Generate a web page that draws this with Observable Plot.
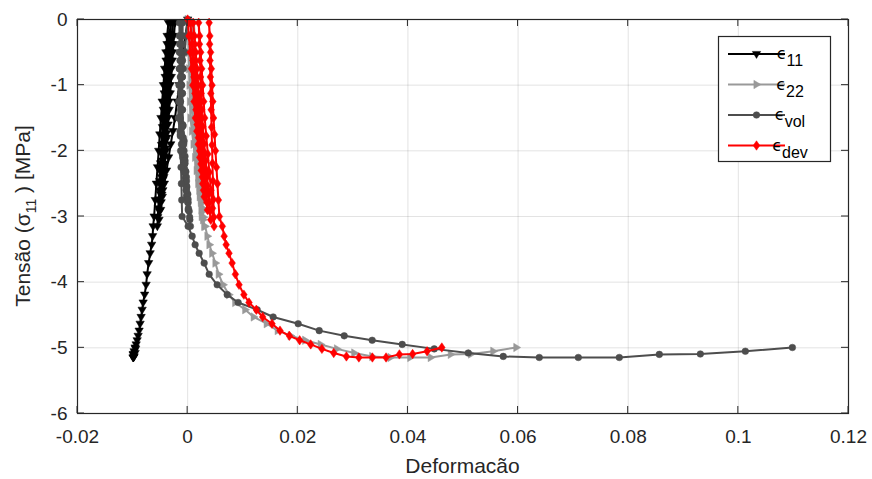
<!DOCTYPE html>
<html><head><meta charset="utf-8">
<script src="https://cdn.jsdelivr.net/npm/d3@7"></script>
<script src="https://cdn.jsdelivr.net/npm/@observablehq/plot@0.6"></script>
<style>body{margin:0;background:#fff} #chart svg{font-family:"Liberation Sans",Arial,sans-serif;overflow:visible}</style>
</head><body><div id="chart"></div>
<script>
// Stress (MPa), shared time steps for all four strain series
const stress = [0,
-0.25,-0.5,-0.75,-1,-1.25,-1.5,-1.7,-1.9,-2.1,-2.3,-2.5,-2.7,
-2.6,-2.4,-2.2,-2.0,-1.8,-1.6,-1.375,-1.125,-0.875,-0.625,-0.375,-0.05,
-0.25,-0.5,-0.75,-1,-1.25,-1.5,-1.733,-1.967,-2.2,-2.433,-2.667,-2.9,
-2.783,-2.55,-2.317,-2.083,-1.85,-1.617,-1.375,-1.125,-0.875,-0.625,-0.375,-0.05,
-0.25,-0.5,-0.75,-1,-1.25,-1.5,-1.76,-2.02,-2.28,-2.53,-2.79,-3.05,
-2.92,-2.66,-2.4,-2.15,-1.89,-1.63,-1.375,-1.125,-0.875,-0.625,-0.375,-0.05,
-0.25,-0.5,-0.75,-1,-1.25,-1.5,-1.775,-2.05,-2.325,-2.6,-2.875,-3.15,
-3.01,-2.74,-2.46,-2.19,-1.91,-1.64,-1.375,-1.125,-0.875,-0.625,-0.375,-0.05,
-0.25,-0.5,-0.75,-1,-1.25,-1.5,-1.75,-2,-2.25,-2.5,-2.75,-3,
-3.15,-3.3,-3.43,-3.56,-3.71,-3.88,-4.04,-4.19,-4.31,-4.42,-4.53,-4.633,-4.738,-4.817,-4.885,-4.948,-5.016,-5.079,-5.131,-5.147,-5.147,-5.147,-5.1,-5.094,-5.052,-4.995];

const e11 = [0,
-0.00038,-0.00077,-0.00115,-0.00153,-0.00192,-0.0023,-0.00268,-0.00307,-0.00345,-0.00383,-0.00422,-0.0046,
-0.0045,-0.00431,-0.00412,-0.00393,-0.00374,-0.00355,-0.00335,-0.00316,-0.00297,-0.00278,-0.00259,-0.0023,
-0.00252,-0.00273,-0.00295,-0.00317,-0.00338,-0.0036,-0.00382,-0.00403,-0.00425,-0.00447,-0.00468,-0.0049,
-0.00481,-0.00463,-0.00444,-0.00426,-0.00408,-0.00389,-0.00371,-0.00353,-0.00334,-0.00316,-0.00298,-0.0027,
-0.00291,-0.00312,-0.00333,-0.00353,-0.00374,-0.00395,-0.00416,-0.00437,-0.00458,-0.00478,-0.00499,-0.0052,
-0.00511,-0.00494,-0.00476,-0.00459,-0.00441,-0.00424,-0.00406,-0.00389,-0.00371,-0.00354,-0.00336,-0.0031,
-0.0033,-0.0035,-0.0037,-0.0039,-0.0041,-0.0043,-0.0045,-0.0047,-0.0049,-0.0051,-0.0053,-0.0055,
-0.00542,-0.00525,-0.00508,-0.00492,-0.00475,-0.00458,-0.00442,-0.00425,-0.00408,-0.00392,-0.00375,-0.0035,
-0.00373,-0.00395,-0.00418,-0.0044,-0.00463,-0.00485,-0.00506,-0.00526,-0.00547,-0.00568,-0.00588,-0.00609,
-0.00627,-0.00636,-0.00654,-0.00681,-0.00708,-0.00736,-0.00754,-0.00781,-0.00808,-0.00826,-0.00845,-0.00863,-0.00881,-0.00899,-0.00917,-0.00935,-0.00945,-0.00954,-0.00972,-0.00981,-0.0099,-0.0099,-0.0099,-0.00981,-0.00972,-0.00954];

const e22 = [0,
0.00008,0.00017,0.00025,0.00033,0.00042,0.0005,0.00078,0.00107,0.00135,0.00163,0.00192,0.0022,
0.00211,0.00192,0.00173,0.00155,0.00135,0.00116,0.00103,0.00094,0.00085,0.00077,0.00068,0.00055,
0.00065,0.00075,0.00085,0.00095,0.00105,0.00115,0.00138,0.0016,0.00183,0.00205,0.00228,0.0025,
0.0024,0.00219,0.00198,0.00177,0.00156,0.00135,0.00121,0.00113,0.00104,0.00096,0.00088,0.00075,
0.00085,0.00094,0.00104,0.00114,0.00123,0.00133,0.00158,0.00182,0.00207,0.00231,0.00256,0.0028,
0.00269,0.00246,0.00223,0.002,0.00177,0.00154,0.00139,0.00131,0.00123,0.00115,0.00107,0.00095,
0.00104,0.00113,0.00123,0.00132,0.00141,0.0015,0.00175,0.002,0.00225,0.0025,0.00275,0.003,
0.00288,0.00265,0.00242,0.00218,0.00195,0.00172,0.00156,0.00149,0.00141,0.00134,0.00126,0.00115,
0.00126,0.00137,0.00148,0.00158,0.00169,0.0018,0.00193,0.00205,0.00218,0.0023,0.00243,0.00255,
0.00318,0.00359,0.00395,0.00445,0.00504,0.00564,0.00645,0.0075,0.00863,0.01045,0.01199,0.01435,0.01635,0.01871,0.02134,0.02416,0.02712,0.03025,0.03352,0.03683,0.04042,0.04414,0.04778,0.05146,0.0555,0.05968];

const evol = [0,
-0.00027,-0.00053,-0.0008,-0.00107,-0.00133,-0.0016,-0.00137,-0.00113,-0.0009,-0.00067,-0.00043,-0.0002,
-0.00027,-0.0004,-0.00053,-0.00067,-0.0008,-0.00093,-0.00099,-0.00098,-0.00096,-0.00094,-0.00093,-0.0009,
-0.00098,-0.00107,-0.00115,-0.00123,-0.00132,-0.0014,-0.00115,-0.0009,-0.00065,-0.0004,-0.00015,0.0001,
0.00002,-0.00015,-0.00032,-0.00048,-0.00065,-0.00082,-0.00092,-0.00095,-0.00098,-0.00102,-0.00105,-0.0011,
-0.00117,-0.00123,-0.0013,-0.00137,-0.00143,-0.0015,-0.00118,-0.00087,-0.00055,-0.00023,0.00008,0.0004,
0.00028,0.00003,-0.00023,-0.00048,-0.00073,-0.00098,-0.00112,-0.00115,-0.00118,-0.00122,-0.00125,-0.0013,
-0.00137,-0.00143,-0.0015,-0.00157,-0.00163,-0.0017,-0.00133,-0.00097,-0.0006,-0.00023,0.00013,0.0005,
0.00036,0.00008,-0.00021,-0.00049,-0.00077,-0.00106,-0.00123,-0.00128,-0.00133,-0.00138,-0.00143,-0.0015,
-0.00148,-0.00147,-0.00145,-0.00143,-0.00142,-0.0014,-0.00133,-0.00127,-0.0012,-0.00113,-0.00107,-0.001,
0.00009,0.00082,0.00136,0.00209,0.003,0.00391,0.00536,0.00718,0.00917,0.01263,0.01553,0.02007,0.02389,0.02843,0.03351,0.03896,0.04478,0.05095,0.05731,0.06385,0.07094,0.07838,0.08565,0.0931,0.10127,0.10981];

const edev = [0,
0.00023,0.00047,0.0007,0.00093,0.00117,0.0014,0.00167,0.00193,0.0022,0.00247,0.00273,0.003,
0.00288,0.00265,0.00242,0.00218,0.00195,0.00172,0.00151,0.00133,0.00114,0.00096,0.00078,0.0005,
0.00073,0.00097,0.0012,0.00143,0.00167,0.0019,0.00218,0.00247,0.00275,0.00303,0.00332,0.0036,
0.00348,0.00323,0.00298,0.00273,0.00248,0.00223,0.00201,0.00183,0.00164,0.00146,0.00128,0.001,
0.00123,0.00147,0.0017,0.00193,0.00217,0.0024,0.0027,0.003,0.0033,0.0036,0.0039,0.0042,
0.00407,0.0038,0.00353,0.00327,0.003,0.00273,0.00255,0.00245,0.00235,0.00225,0.00215,0.002,
0.00218,0.00237,0.00255,0.00273,0.00292,0.0031,0.00338,0.00367,0.00395,0.00423,0.00452,0.0048,
0.00476,0.00467,0.00459,0.00451,0.00442,0.00434,0.00427,0.0042,0.00413,0.00407,0.004,0.0039,
0.00403,0.00417,0.0043,0.00443,0.00457,0.0047,0.00488,0.00505,0.00523,0.00541,0.00558,0.00576,
0.0063,0.00663,0.00699,0.00751,0.00808,0.00867,0.00933,0.01021,0.01114,0.01247,0.01363,0.01532,0.01677,0.01847,0.02034,0.02234,0.02438,0.02653,0.02883,0.03109,0.03355,0.03603,0.03845,0.04085,0.04348,0.04615];

const xTicks = [-0.02, 0, 0.02, 0.04, 0.06, 0.08, 0.1, 0.12];
const yTicks = [-6, -5, -4, -3, -2, -1, 0];
const legendSubs = ["11", "22", "vol", "dev"];
const xLabel = "Deformacão";
const yLabelParts = ["Tensão (σ", "11", " ) [MPa]"];

// marker shapes
const R = s => Math.sqrt(s / Math.PI);
const symDown = {draw(c, s){const r=R(s)*1.2; c.moveTo(-r,-r*0.62); c.lineTo(r,-r*0.62); c.lineTo(0,r*1.05); c.closePath();}};
const symRight = {draw(c, s){const r=R(s)*1.2; c.moveTo(-r*0.62,-r); c.lineTo(r*1.05,0); c.lineTo(-r*0.62,r); c.closePath();}};
const symCircle = {draw(c, s){const r=R(s)*0.95; c.moveTo(r,0); c.arc(0,0,r,0,2*Math.PI); c.closePath();}};
const symDiamond = {draw(c, s){const r=R(s); c.moveTo(0,-r*1.35); c.lineTo(r*0.95,0); c.lineTo(0,r*1.35); c.lineTo(-r*0.95,0); c.closePath();}};

const series = [
  {values: e11, color: "#000000", symbol: symDown},
  {values: e22, color: "#999999", symbol: symRight},
  {values: evol, color: "#4d4d4d", symbol: symCircle},
  {values: edev, color: "#ff0000", symbol: symDiamond}
];

const W = 872, H = 479, ML = 77, MR = 24, MT = 19, MB = 66;
const axisColor = "#262626";
const markR = 3.5;

const marks = [
  Plot.gridX(xTicks, {stroke: axisColor, strokeOpacity: 0.13, strokeWidth: 1}),
  Plot.gridY(yTicks, {stroke: axisColor, strokeOpacity: 0.13, strokeWidth: 1})
];
series.forEach(s => {
  const data = stress.map((y, i) => ({x: s.values[i], y}));
  marks.push(Plot.line(data, {x: "x", y: "y", stroke: s.color, strokeWidth: 2}));
  marks.push(Plot.dot(data, {x: "x", y: "y", symbol: s.symbol, r: markR, fill: s.color, stroke: s.color, strokeWidth: 0.5}));
});
marks.push(Plot.frame({stroke: axisColor, strokeWidth: 1.2}));
marks.push(Plot.axisX(xTicks, {tickSize: 0, tickPadding: 16, tickFormat: d => String(d), fontSize: 19, fill: axisColor, label: null}));
marks.push(Plot.axisY(yTicks, {tickSize: 0, tickPadding: 10, tickFormat: d => String(d), fontSize: 19, fill: axisColor, label: null}));

const chart = Plot.plot({
  width: W, height: H,
  marginLeft: ML, marginRight: MR, marginTop: MT, marginBottom: MB,
  style: {background: "white", fontFamily: '"Liberation Sans", Arial, sans-serif'},
  x: {domain: [-0.02, 0.12]},
  y: {domain: [-6, 0]},
  marks
});
document.getElementById("chart").appendChild(chart);

const svg = d3.select(chart);
const xs = chart.scale("x"), ys = chart.scale("y");
const x0 = xs.apply(-0.02), x1 = xs.apply(0.12), y0 = ys.apply(-6), y1 = ys.apply(0);
const tk = 7;
const tg = svg.append("g").attr("stroke", axisColor).attr("stroke-width", 1);
xTicks.forEach(v => {
  const x = xs.apply(v);
  tg.append("line").attr("x1", x).attr("x2", x).attr("y1", y0).attr("y2", y0 - tk);
  tg.append("line").attr("x1", x).attr("x2", x).attr("y1", y1).attr("y2", y1 + tk);
});
yTicks.forEach(v => {
  const y = ys.apply(v);
  tg.append("line").attr("x1", x0).attr("x2", x0 + tk).attr("y1", y).attr("y2", y);
  tg.append("line").attr("x1", x1).attr("x2", x1 - tk).attr("y1", y).attr("y2", y);
});

// axis labels
svg.append("text").attr("x", (x0 + x1) / 2).attr("y", 473).attr("text-anchor", "middle")
  .attr("font-size", 21).attr("fill", axisColor).text(xLabel);
const yl = svg.append("text").attr("transform", `translate(30,${(y0 + y1) / 2}) rotate(-90)`)
  .attr("text-anchor", "middle").attr("font-size", 21).attr("fill", axisColor);
yl.append("tspan").text(yLabelParts[0]);
yl.append("tspan").attr("font-size", 14).attr("dy", 6).text(yLabelParts[1]);
yl.append("tspan").attr("dy", -6).text(yLabelParts[2]);

// legend
const lg = svg.append("g");
lg.append("rect").attr("x", 718.5).attr("y", 36.5).attr("width", 112).attr("height", 125)
  .attr("fill", "white").attr("stroke", axisColor).attr("stroke-width", 1.2);
const ly = [54, 84.5, 115, 145.5];
series.forEach((s, i) => {
  const y = ly[i];
  lg.append("line").attr("x1", 728).attr("x2", 785).attr("y1", y).attr("y2", y)
    .attr("stroke", s.color).attr("stroke-width", 2);
  const p = d3.path(); s.symbol.draw(p, Math.PI * markR * markR);
  lg.append("path").attr("d", p.toString()).attr("transform", `translate(756.5,${y})`)
    .attr("fill", s.color).attr("stroke", s.color).attr("stroke-width", 0.5);
  const t = lg.append("text").attr("x", 790).attr("y", y + 5).attr("fill", "#000");
  t.append("tspan").attr("font-size", 16).attr("font-family", '"DejaVu Sans", sans-serif').text("ϵ");
  t.append("tspan").attr("font-size", 16).attr("dy", 7).text(legendSubs[i]);
});
</script>
</body></html>
